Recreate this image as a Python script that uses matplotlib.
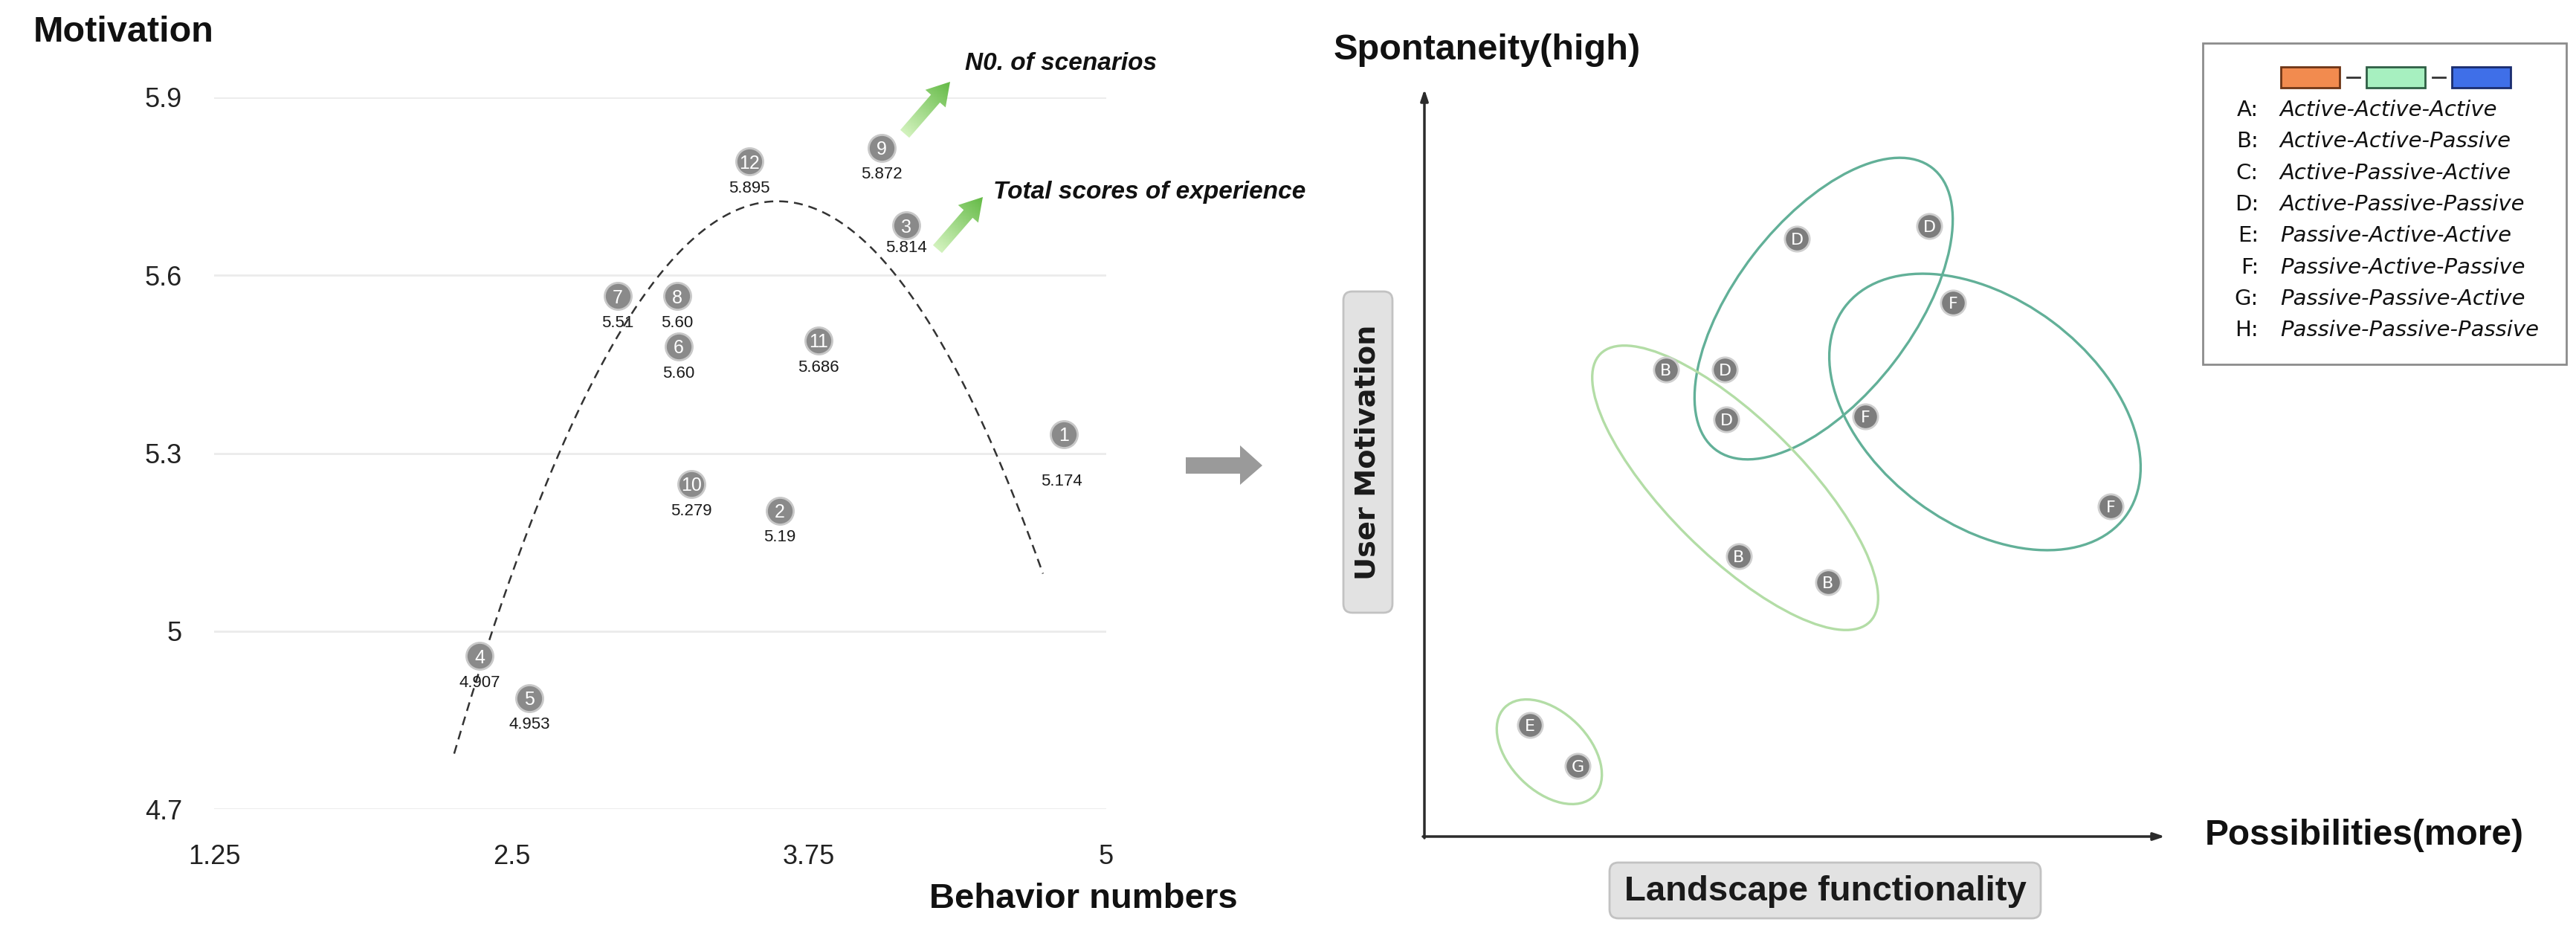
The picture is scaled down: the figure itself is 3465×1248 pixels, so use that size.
import numpy as np
import matplotlib
matplotlib.use("Agg")
import matplotlib.pyplot as plt
from matplotlib.patches import Ellipse, Polygon, Rectangle, FancyBboxPatch
from matplotlib.colors import LinearSegmentedColormap

W, H = 3466, 1248
DPI = 100

# ---------------- data: left panel ----------------
scenario_ids = [1, 2, 3, 4, 5, 6, 7, 8, 9, 10, 11, 12]
behavior_numbers = [4.822, 3.628, 4.159, 2.366, 2.575, 3.203, 2.947, 3.197, 4.056, 3.256, 3.791, 3.500]
motivation = [5.332, 5.203, 5.684, 4.958, 4.887, 5.480, 5.565, 5.565, 5.815, 5.248, 5.490, 5.792]
experience_scores = ['5.174', '5.19', '5.814', '4.907', '4.953', '5.60',
                     '5.51', '5.60', '5.872', '5.279', '5.686', '5.895']
x_ticks = [1.25, 2.5, 3.75, 5]
x_tick_labels = ['1.25', '2.5', '3.75', '5']
y_ticks = [4.7, 5.0, 5.3, 5.6, 5.9]
y_tick_labels = ['4.7', '5', '5.3', '5.6', '5.9']
# points
trend_x = [2.269, 2.391, 2.680, 3.122, 3.628, 4.100, 4.553, 4.734]
trend_y = [4.775, 4.993, 5.296, 5.598, 5.718, 5.598, 5.296, 5.094]

# ---------------- data: right panel ----------------
type_letters = ['D', 'D', 'F', 'B', 'D', 'D', 'F', 'F', 'B', 'B', 'E', 'G']
functionality = [501, 679, 711, 325, 404, 406, 593, 923, 423, 543, 142, 206]
user_motivation = [804, 821, 718, 628, 628, 561, 565, 444, 377, 342, 150, 95]
group_names = ['D', 'F', 'B', 'EG']
group_cx = [537, 754, 418, 168]
group_cy = [710, 571, 469, 114]
group_w = [478, 471, 511, 169]
group_h = [238, 303, 182, 106]
group_angle = [52.4, -36.7, -44.8, -44.7]
group_colors = ['#62b098', '#62b098', '#b3dda6', '#b3dda6']

legend_codes = ['A:', 'B:', 'C:', 'D:', 'E:', 'F:', 'G:', 'H:']
legend_names = ['Active-Active-Active', 'Active-Active-Passive', 'Active-Passive-Active',
                'Active-Passive-Passive', 'Passive-Active-Active', 'Passive-Active-Passive',
                'Passive-Passive-Active', 'Passive-Passive-Passive']
legend_swatch_colors = ['#f28b4f', '#a7f0c0', '#3f6fe8']
legend_swatch_edges = ['#6e3516', '#2f5f45', '#1a2c6e']

SANS = ['Liberation Sans', 'DejaVu Sans']

fig = plt.figure(figsize=(W / DPI, H / DPI), dpi=DPI)
fig.patch.set_facecolor('white')

# ---------------- left panel ----------------
ax1 = fig.add_axes([288 / W, 1 - 1088 / H, 1200 / W, 957 / H])
ax1.set_xlim(1.25, 5)
ax1.set_ylim(4.7, 5.9)
for s in ax1.spines.values():
    s.set_visible(False)
ax1.set_yticks(y_ticks)
ax1.set_yticklabels(y_tick_labels, family=SANS, fontsize=26, color='#222222')
ax1.set_xticks(x_ticks)
ax1.set_xticklabels(x_tick_labels, family=SANS, fontsize=26, color='#222222')
ax1.tick_params(axis='y', length=0, pad=31)
ax1.tick_params(axis='x', length=0, pad=34)
ax1.grid(axis='y', color='#ebebeb', lw=2)
ax1.set_axisbelow(True)

coef = np.polyfit(trend_x, trend_y, 2)
tx = np.linspace(min(trend_x) - 0.01, max(trend_x), 300)
ax1.plot(tx, np.polyval(coef, tx), ls=(0, (4.8, 3.2)), color='#333333', lw=1.8, zorder=2,
         clip_on=False)

ax1.scatter(behavior_numbers, motivation, s=26 ** 2, c='#8a8a8a', edgecolors='#c8c8c8',
            linewidths=2, zorder=3, clip_on=False)
label_offsets = {1: (-2, -46), 3: (0, -22)}
for sid, bx, my, sc in zip(scenario_ids, behavior_numbers, motivation, experience_scores):
    ax1.text(bx, my, str(sid), ha='center', va='center_baseline', color='white',
             fontsize=18, family=SANS, zorder=4)
    off = label_offsets.get(sid, (0, -26))
    ax1.annotate(sc, (bx, my), xytext=off, textcoords='offset points', ha='center',
                 va='center', fontsize=16, family=SANS, color='#1a1a1a', zorder=4)

# ---------------- right panel ----------------
ax2 = fig.add_axes([1916 / W, 1 - 1125 / H, 999 / W, 1000 / H])
ax2.set_xlim(0, 999)
ax2.set_ylim(0, 1000)
ax2.axis('off')
for cx, cy, w, h, a, c in zip(group_cx, group_cy, group_w, group_h, group_angle, group_colors):
    ax2.add_patch(Ellipse((cx, cy), w, h, angle=a, fill=False, ec=c, lw=2.4, zorder=2))
ax2.scatter(functionality, user_motivation, s=24 ** 2, c='#7d7d7d', edgecolors='#cfcfcf',
            linewidths=2, zorder=3, clip_on=False)
for lt, fx, uy in zip(type_letters, functionality, user_motivation):
    ax2.text(fx, uy, lt, ha='center', va='center_baseline', color='white', fontsize=16,
             family='DejaVu Sans', zorder=4)

# ---------------- overlay (annotations in pixel coordinates) ----------------
ov = fig.add_axes([0, 0, 1, 1])
ov.set_xlim(0, W)
ov.set_ylim(H, 0)
ov.axis('off')
ov.patch.set_alpha(0)


def gradient_arrow(ax, tail, tip, c0, c1, shaft=8, head=18, head_len=30):
    t = np.array(tail, float)
    p = np.array(tip, float)
    d = p - t
    L = np.hypot(*d)
    u = d / L
    n = np.array([-u[1], u[0]])
    h0 = p - u * head_len
    pts = [t + n * shaft, h0 + n * shaft, h0 + n * head, p, h0 - n * head, h0 - n * shaft, t - n * shaft]
    poly = Polygon(pts, closed=True, fc='none', ec='none')
    ax.add_patch(poly)
    xs = [q[0] for q in pts]
    ys = [q[1] for q in pts]
    x0, x1, y0, y1 = min(xs), max(xs), min(ys), max(ys)
    gx, gy = np.meshgrid(np.linspace(x0, x1, 120), np.linspace(y0, y1, 120))
    proj = ((gx - t[0]) * u[0] + (gy - t[1]) * u[1]) / L
    cmap = LinearSegmentedColormap.from_list('g', [c0, c1])
    im = ax.imshow(proj, extent=(x0, x1, y0, y1), origin='lower', cmap=cmap, vmin=0, vmax=1,
                   aspect='auto', interpolation='bilinear')
    im.set_clip_path(poly)


gradient_arrow(ov, (1217, 180), (1278, 110), '#d2f2bd', '#62b944')
gradient_arrow(ov, (1261, 335), (1322, 265), '#d2f2bd', '#62b944')
ov.set_xlim(0, W)
ov.set_ylim(H, 0)

# gray block arrow between panels
ov.add_patch(Polygon([(1595, 615), (1668, 615), (1668, 599), (1698, 626), (1668, 652),
                      (1668, 637), (1595, 637)], closed=True, fc='#9a9a9a', ec='none'))

# left texts
ov.text(45, 44, 'Motivation', ha='left', va='center', fontsize=35, fontweight='bold',
        family=SANS, color='#111111')
ov.text(1250, 1209, 'Behavior numbers', ha='left', va='center', fontsize=34,
        fontweight='bold', family=SANS, color='#111111')
ov.text(1298, 85, 'N0. of scenarios', ha='left', va='center', fontsize=24,
        fontweight='bold', fontstyle='italic', family=SANS, color='#111111')
ov.text(1336, 259, 'Total scores of experience', ha='left', va='center', fontsize=24,
        fontweight='bold', fontstyle='italic', family=SANS, color='#111111')

# right axis arrows
ov.annotate('', xy=(1916, 120), xytext=(1916, 1127),
            arrowprops=dict(arrowstyle='-|>,head_length=0.9,head_width=0.3', color='#2b2b2b',
                            lw=2.5, shrinkA=0, shrinkB=0))
ov.annotate('', xy=(2912, 1125), xytext=(1914, 1125),
            arrowprops=dict(arrowstyle='-|>,head_length=0.9,head_width=0.3', color='#2b2b2b',
                            lw=2.5, shrinkA=0, shrinkB=0))
ov.text(1794, 68, 'Spontaneity(high)', ha='left', va='center', fontsize=35,
        fontweight='bold', family=SANS, color='#111111')
ov.text(2966, 1123, 'Possibilities(more)', ha='left', va='center', fontsize=34.5,
        fontweight='bold', family=SANS, color='#111111')

# label boxes
ov.add_patch(FancyBboxPatch((1807, 392), 66, 432, boxstyle='round,pad=0,rounding_size=12',
                            fc='#e2e2e2', ec='#c2c2c2', lw=2))
ov.text(1840, 608, 'User Motivation', rotation=90, ha='center', va='center', fontsize=27.5,
        fontweight='bold', family='DejaVu Sans', color='#1a1a1a')
ov.add_patch(FancyBboxPatch((2165, 1160), 580, 75, boxstyle='round,pad=0,rounding_size=12',
                            fc='#e2e2e2', ec='#c2c2c2', lw=2))
ov.text(2455, 1199, 'Landscape functionality', ha='center', va='center', fontsize=34,
        fontweight='bold', family=SANS, color='#1a1a1a')

# legend
ov.add_patch(Rectangle((2963, 58), 489, 432, fc='white', ec='#8c8c8c', lw=2))
sw_x = [3068, 3183, 3298]
for i, (fc, ec) in enumerate(zip(legend_swatch_colors, legend_swatch_edges)):
    ov.add_patch(Rectangle((sw_x[i], 90), 79, 28, fc=fc, ec=ec, lw=2))
    if i < 2:
        ov.plot([sw_x[i] + 89, sw_x[i] + 106], [104, 104], color='#333333', lw=2)
for i, (code, name) in enumerate(zip(legend_codes, legend_names)):
    yy = 148 + i * 42.3
    ov.text(3038, yy, code, ha='right', va='center', fontsize=21, family='DejaVu Sans',
            color='#111111')
    ov.text(3067, yy, name, ha='left', va='center', fontsize=21, fontstyle='italic',
            family='DejaVu Sans', color='#111111')

fig.savefig('out.png', dpi=DPI, facecolor='white')
